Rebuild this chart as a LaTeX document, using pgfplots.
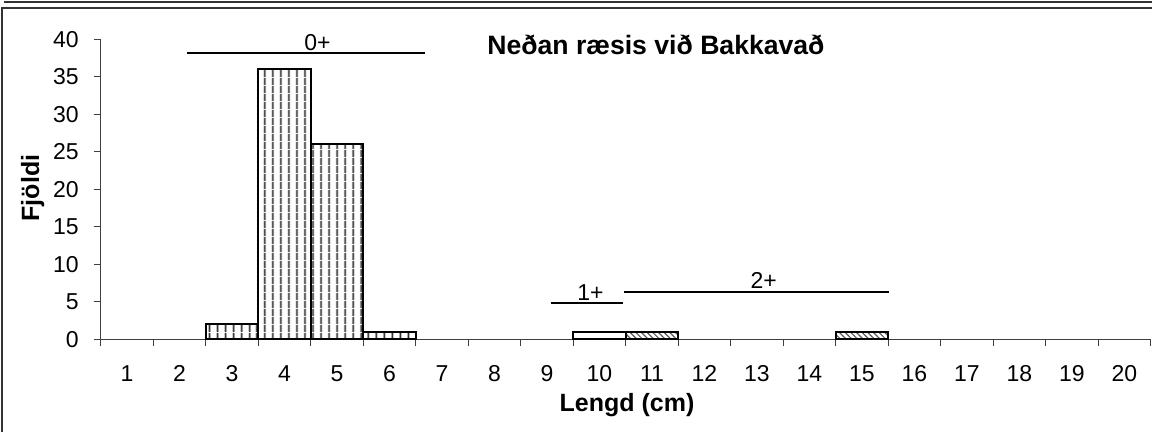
\documentclass[border=0pt]{standalone}
\usepackage{fontspec}
\setmainfont{Liberation Sans}
\usepackage{pgfplots}
\pgfplotsset{compat=1.18}
\usetikzlibrary{patterns.meta}
\begin{document}
\begin{tikzpicture}[x=1pt,y=1pt]
\useasboundingbox (0,0) rectangle (576,216);
\draw[line width=1pt, black!80] (1,0) -- (1,212) -- (576,212);
\draw[line width=1pt, black!80] (2,215.2) -- (576,215.2);
\begin{axis}[
  at={(50.35pt,46.35pt)}, anchor=south west,
  scale only axis, width=525pt, height=150pt,
  xmin=0.5, xmax=20.5, ymin=0, ymax=40,
  axis lines*=left,
  axis line style={line width=0.5pt, black!75},
  xtick={1,...,20},
  major x tick style={draw=none},
  minor xtick={0.5,1.5,...,20.5},
  minor tick length=3.5pt,
  ytick={0,5,...,40},
  tick align=outside,
  major tick length=3.5pt,
  tick style={black!75, line width=0.5pt},
  /pgf/number format/assume math mode=true,
  tick label style={font=\fontsize{11.5pt}{13pt}\selectfont},
  xticklabel style={yshift=-6pt},
  yticklabel style={xshift=-4pt},
  clip=false,
]
\addplot[ybar, bar width=1, bar shift=0pt, draw=black, line width=1pt,
  pattern={Lines[angle=90,distance=4pt,line width=1pt]}, pattern color=black!85]
  coordinates {(3,2) (4,36) (5,26) (6,1)};
\addplot[ybar, bar width=1, bar shift=0pt, draw=black, line width=1pt, fill=white]
  coordinates {(10,1)};
\addplot[ybar, bar width=1, bar shift=0pt, draw=black, line width=1pt,
  pattern={Lines[angle=-45,distance=2pt,line width=0.6pt]}, pattern color=black!65]
  coordinates {(11,1) (15,1)};
\draw[line width=1pt] (axis cs:2.14,38.2) -- (axis cs:6.68,38.2);
\node[font=\fontsize{11.5pt}{13pt}\selectfont] at (axis cs:4.63,39.6) {0+};
\draw[line width=1pt] (axis cs:9.07,4.88) -- (axis cs:10.44,4.88);
\node[font=\fontsize{11.5pt}{13pt}\selectfont] at (axis cs:9.83,6.2) {1+};
\draw[line width=1pt] (axis cs:10.47,6.35) -- (axis cs:15.52,6.35);
\node[font=\fontsize{11.5pt}{13pt}\selectfont] at (axis cs:13.13,7.8) {2+};
\end{axis}
\node[anchor=base west, inner sep=0pt, font=\fontsize{13.3pt}{15pt}\selectfont\bfseries] at (243.5,188.5) {Neðan ræsis við Bakkavað};
\node[rotate=90, font=\fontsize{12.5pt}{14pt}\selectfont\bfseries] at (16.35,122) {Fjöldi};
\node[anchor=base, inner sep=0pt, font=\fontsize{12.5pt}{14pt}\selectfont\bfseries] at (313.5,10.15) {Lengd (cm)};
\end{tikzpicture}
\end{document}
